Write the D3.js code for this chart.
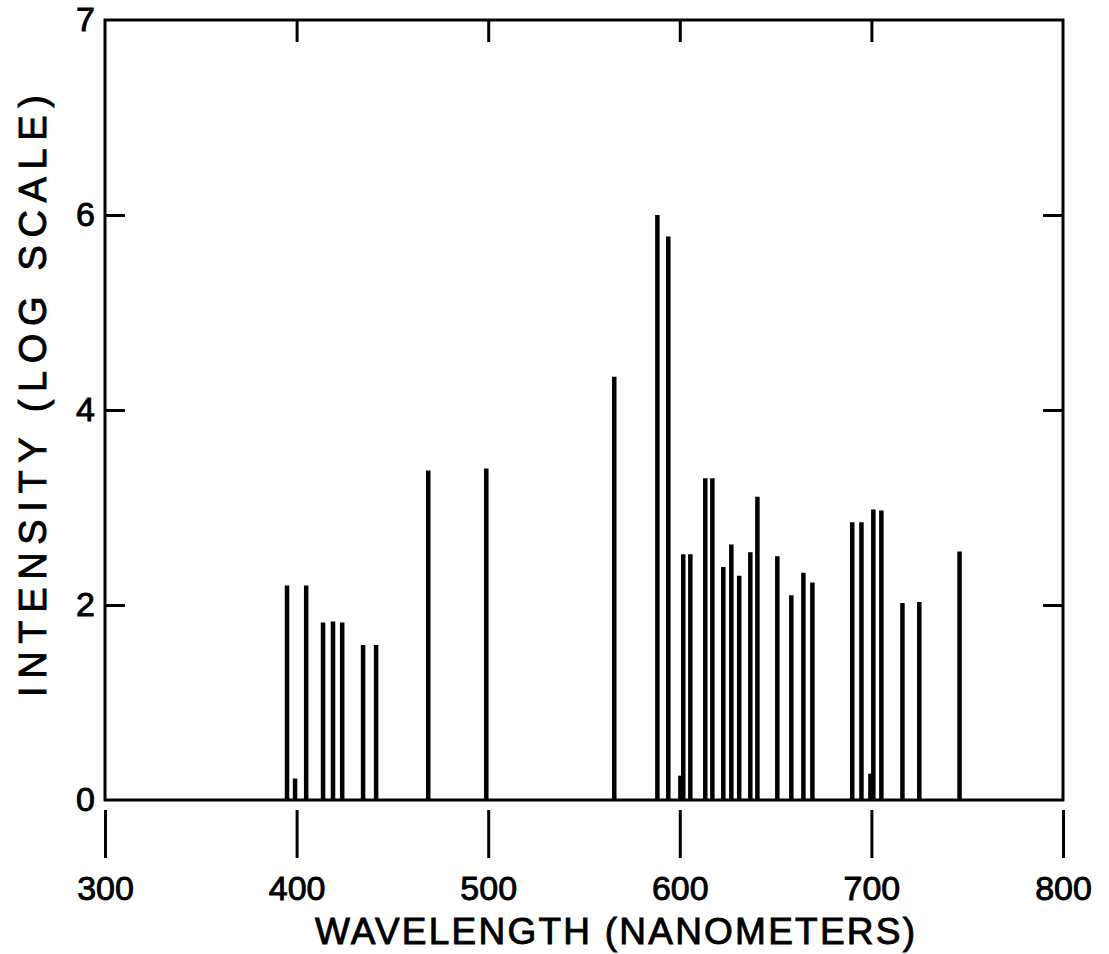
<!DOCTYPE html>
<html>
<head>
<meta charset="utf-8">
<script src="https://cdn.jsdelivr.net/npm/d3@7"></script>
<style>
  html, body { margin: 0; padding: 0; background: #fff; }
  svg { display: block; }
  text { font-family: "Liberation Sans", Arial, sans-serif; fill: #000; stroke: #000; stroke-width: 0.9px; }
</style>
</head>
<body>
<svg id="chart" width="1109" height="954"></svg>
<script>
// Emission line wavelengths (nm) and intensities (log scale)
const wavelengths = [395, 399.2, 405, 413.8, 419, 423.8, 434.7, 441.5, 468.7, 499,
  565.8, 588.3, 594, 600.3, 601.8, 605.5, 613.3, 617, 622.7, 626.9, 631, 636.8, 640.5,
  650.9, 658.2, 664.5, 669.2, 690, 694.8, 699.5, 701, 705.2, 716.2, 725, 746];
const intensities = [2.2, 0.22, 2.2, 1.82, 1.83, 1.82, 1.59, 1.59, 3.38, 3.4,
  4.34, 6.0, 5.78, 0.25, 2.52, 2.52, 3.3, 3.3, 2.39, 2.62, 2.3, 2.54, 3.11,
  2.5, 2.1, 2.33, 2.23, 2.85, 2.85, 0.27, 2.98, 2.97, 2.02, 2.03, 2.55];

const xTickValues = [300, 400, 500, 600, 700, 800];
const xTopTickValues = [400, 500, 600, 700];
const yTickValues = [0, 2, 4, 6, 8];
const yTickLabels = ["0", "2", "4", "6", "7"];
const yInnerTickValues = [2, 4, 6];
const xTitle = "WAVELENGTH (NANOMETERS)";
const yTitle = "INTENSITY (LOG SCALE)";

const svg = d3.select("#chart");
const L = 105, R = 1063, T = 20, B = 800;

const x = d3.scaleLinear().domain([300, 800]).range([L, R]);
const y = d3.scaleLinear().domain([0, 8]).range([B, T]);

// spectral lines
svg.append("g").selectAll("line")
  .data(wavelengths.map((w, i) => ({ w, v: intensities[i] })))
  .join("line")
  .attr("x1", d => x(d.w)).attr("x2", d => x(d.w))
  .attr("y1", y(0)).attr("y2", d => y(d.v))
  .attr("stroke", "#000").attr("stroke-width", 4.5);

// frame
svg.append("rect")
  .attr("x", L).attr("y", T).attr("width", R - L).attr("height", B - T)
  .attr("fill", "none").attr("stroke", "#000").attr("stroke-width", 3);

function styleAxis(g) {
  g.select(".domain").remove();
  g.selectAll(".tick line").attr("stroke", "#000").attr("stroke-width", 3);
  g.selectAll(".tick text").attr("font-size", 34).attr("fill", "#000")
    .attr("font-family", "Liberation Sans, Arial, sans-serif");
}

// bottom axis (outside ticks, offset below frame)
svg.append("g").attr("transform", `translate(0,${B + 10})`)
  .call(d3.axisBottom(x).tickValues(xTickValues).tickSize(48).tickPadding(18).tickFormat(d3.format("d")))
  .call(styleAxis);

// top inward ticks
svg.append("g").attr("transform", `translate(0,${T})`)
  .call(d3.axisTop(x).tickValues(xTopTickValues).tickSize(-22).tickFormat(""))
  .call(styleAxis);

// left axis with inward ticks
const leftAxis = svg.append("g").attr("transform", `translate(${L},0)`)
  .call(d3.axisLeft(y).tickValues(yTickValues).tickSize(-20).tickPadding(10)
    .tickFormat((d, i) => yTickLabels[i]))
  .call(styleAxis);
leftAxis.selectAll(".tick").filter(d => d === 0 || d === 8).select("line").remove();

// right inward ticks
svg.append("g").attr("transform", `translate(${R},0)`)
  .call(d3.axisRight(y).tickValues(yInnerTickValues).tickSize(-20).tickFormat(""))
  .call(styleAxis);

// axis titles
svg.append("text")
  .attr("x", (315 + 915) / 2).attr("y", 944)
  .attr("text-anchor", "middle").attr("font-size", 37)
  .attr("textLength", 600).attr("lengthAdjust", "spacing")
  .text(xTitle);

svg.append("text")
  .attr("transform", `translate(46,${396}) rotate(-90)`)
  .attr("text-anchor", "middle").attr("font-size", 38)
  .attr("textLength", 602).attr("lengthAdjust", "spacing")
  .text(yTitle);
</script>
</body>
</html>
